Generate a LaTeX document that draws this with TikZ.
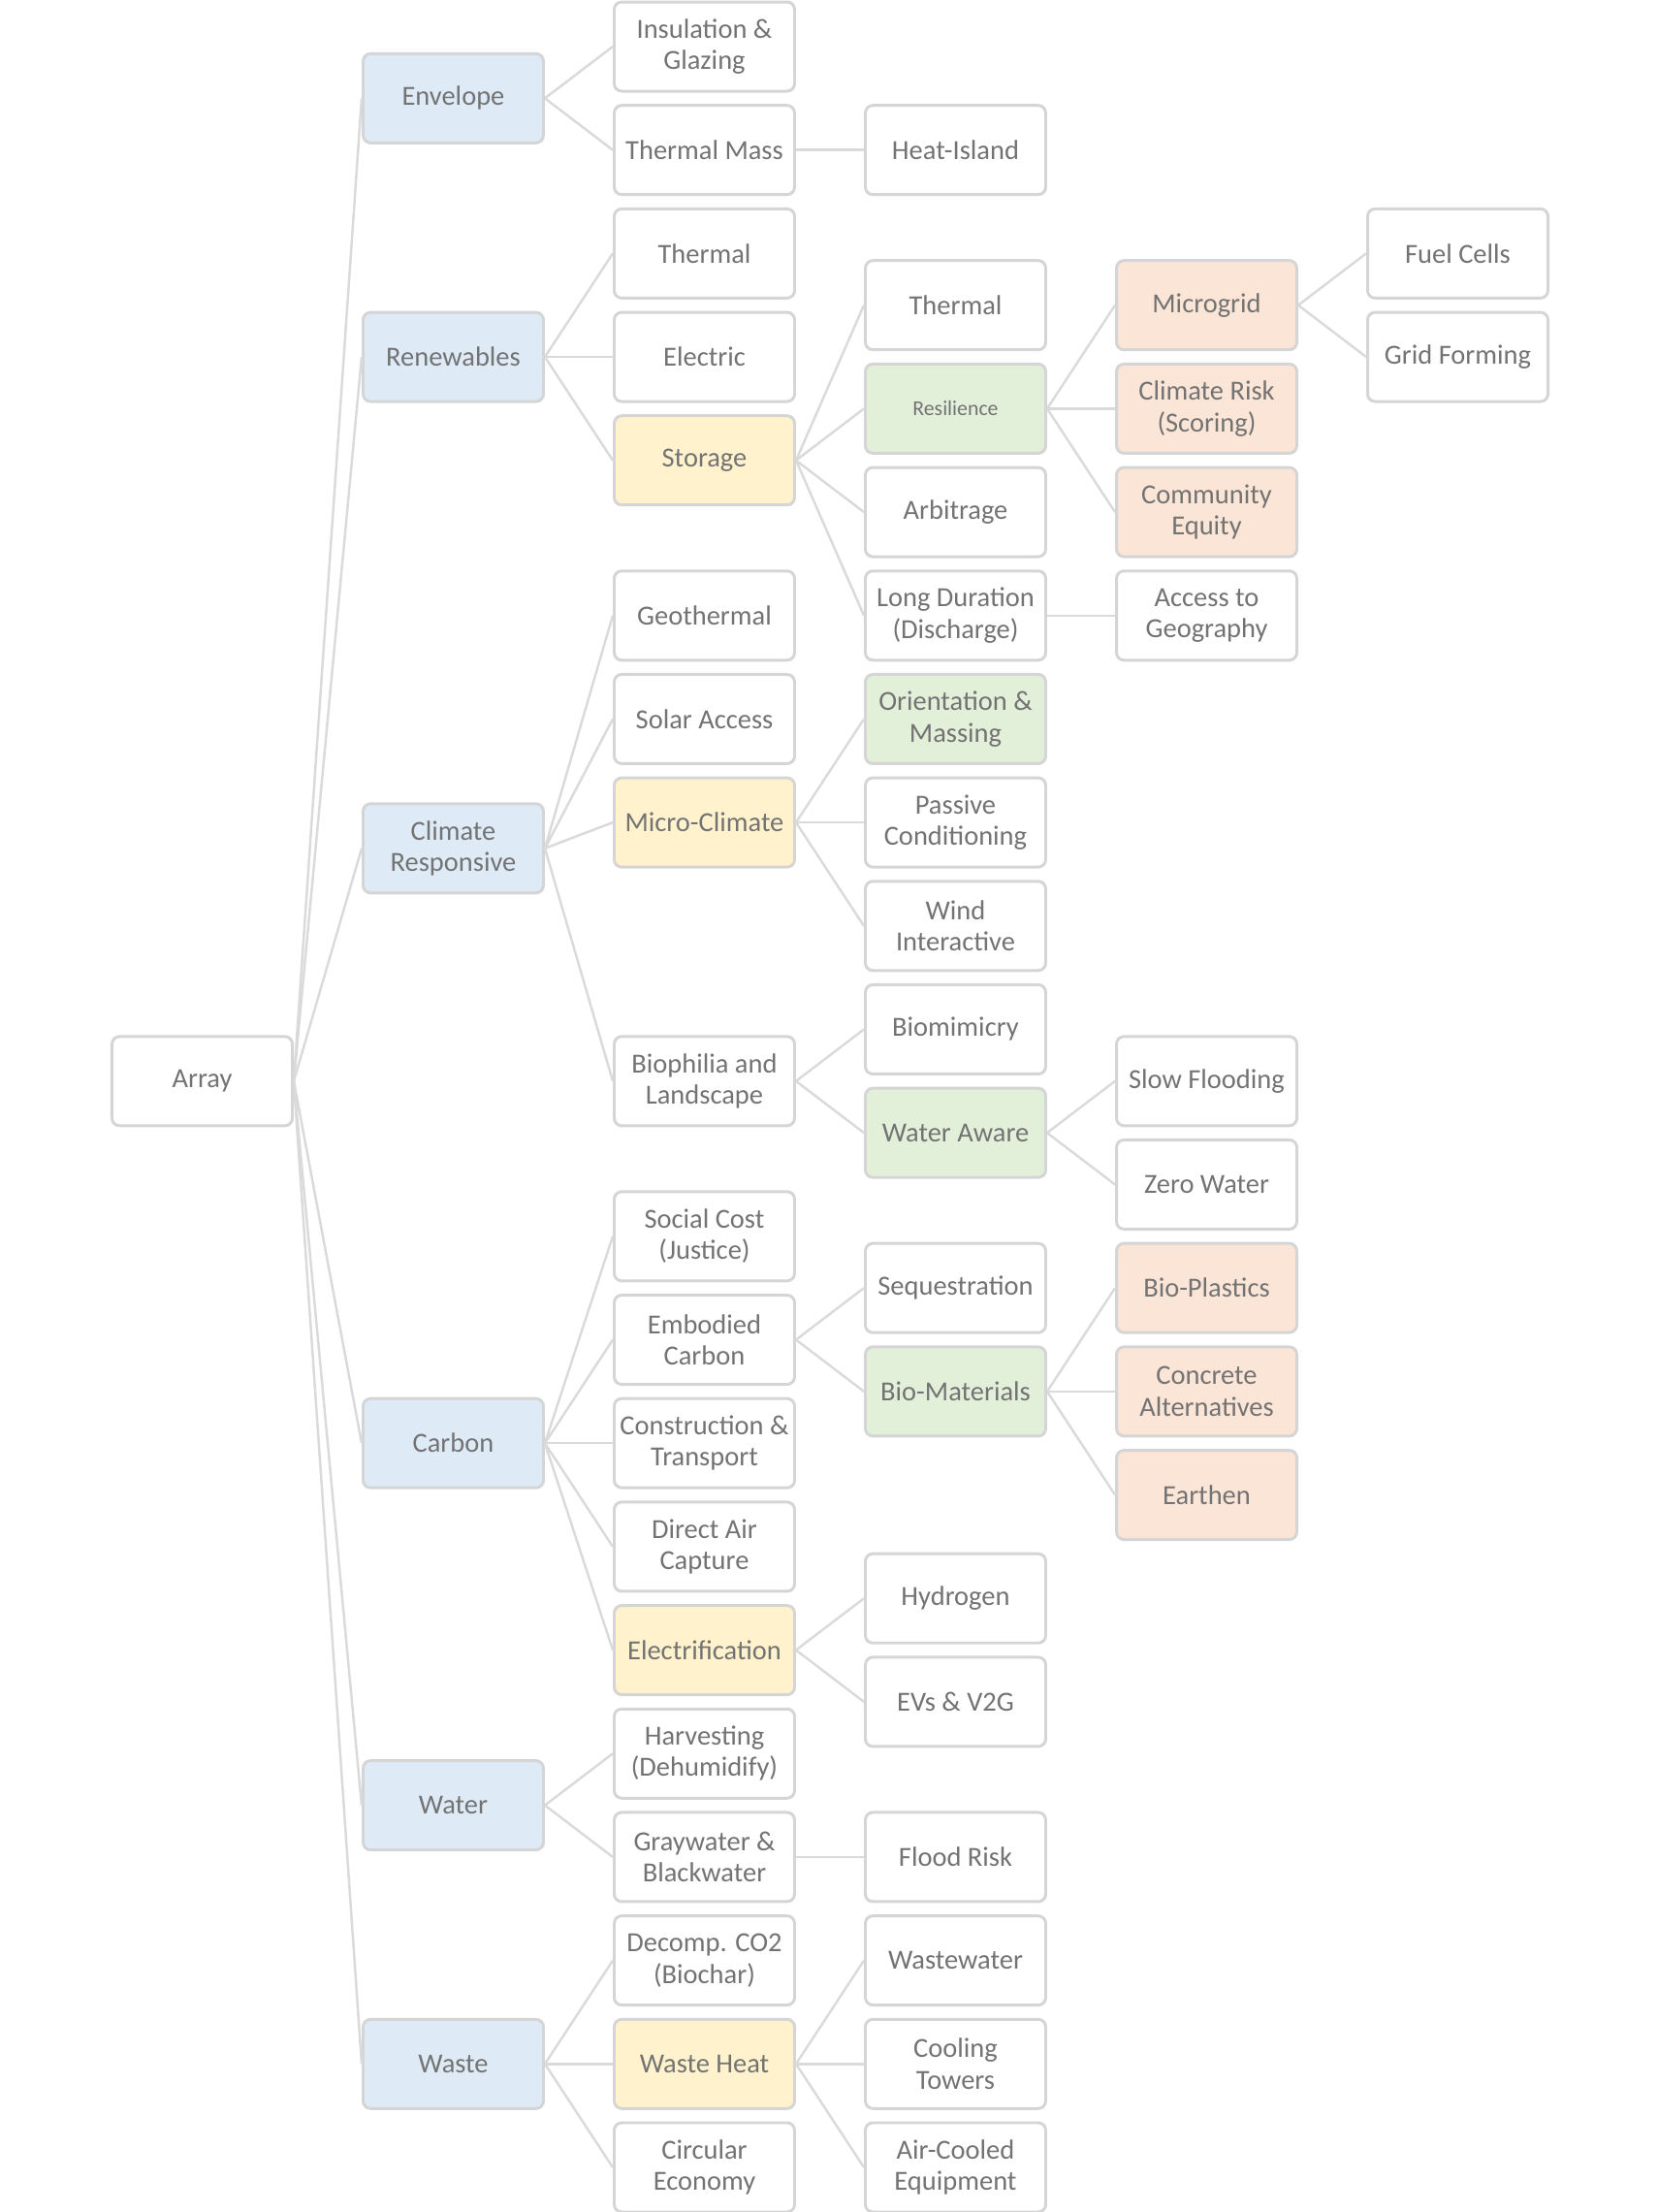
\documentclass[tikz,border=0pt]{standalone}
\usepackage{fontspec}
\setmainfont{Carlito}
\usetikzlibrary{positioning}

\definecolor{boxline}{HTML}{D5D5D5}
\definecolor{linkgray}{HTML}{DADADA}
\definecolor{txt}{HTML}{737373}
\definecolor{catblue}{HTML}{DEEBF7}
\definecolor{hubyellow}{HTML}{FFF2CC}
\definecolor{focusgreen}{HTML}{E2F0D9}
\definecolor{detailpeach}{HTML}{FBE5D6}

\tikzset{
	box/.style={draw=boxline, line width=0.85pt, rounded corners=2.2pt, fill=white,
		minimum width=1.86cm, minimum height=0.92cm, inner sep=1pt, align=center,
		text=txt, font=\fontsize{8.1}{9.2}\selectfont},
	cat/.style={box, fill=catblue},
	hub/.style={box, fill=hubyellow},
	focus/.style={box, fill=focusgreen},
	detail/.style={box, fill=detailpeach},
	link/.style={draw=linkgray, line width=0.7pt},
}

\begin{document}
\begin{tikzpicture}[x=2.59cm, y=-0.5334cm]
	\useasboundingbox (-0.8050, -0.9) rectangle (5.7973, 41.863);

	% root
	\node[box] (arr) at (0, 20) {Array};

	% first level
	\node[cat] (env) at (1, 1) {Envelope};
	\node[cat] (ren) at (1, 6) {Renewables};
	\node[cat] (clim) at (1, 15.5) {Climate\\Responsive};
	\node[cat] (carb) at (1, 27) {Carbon};
	\node[cat] (wat) at (1, 34) {Water};
	\node[cat] (wst) at (1, 39) {Waste};

	\foreach \c in {env, ren, clim, carb, wat, wst} {
		\draw[link] (arr.east) -- (\c.west);
	}

	% second level
	\node[box] (ins) at (2, 0) {Insulation \&\\Glazing};
	\node[box] (tmass) at (2, 2) {Thermal Mass};
	\node[box] (rth) at (2, 4) {Thermal};
	\node[box] (rel) at (2, 6) {Electric};
	\node[hub] (sto) at (2, 8) {Storage};
	\node[box] (geo) at (2, 11) {Geothermal};
	\node[box] (sol) at (2, 13) {Solar Access};
	\node[hub] (mic) at (2, 15) {Micro-Climate};
	\node[box] (bio) at (2, 20) {Biophilia and\\Landscape};
	\node[box] (soc) at (2, 23) {Social Cost\\(Justice)};
	\node[box] (emb) at (2, 25) {Embodied\\Carbon};
	\node[box] (con) at (2, 27) {Construction \&\\Transport};
	\node[box] (dac) at (2, 29) {Direct Air\\Capture};
	\node[hub] (ele) at (2, 31) {Electrification};
	\node[box] (har) at (2, 33) {Harvesting\\(Dehumidify)};
	\node[box] (gry) at (2, 35) {Graywater \&\\Blackwater};
	\node[box] (dec) at (2, 37) {Decomp. CO2\\(Biochar)};
	\node[hub] (wh) at (2, 39) {Waste Heat};
	\node[box] (circ) at (2, 41) {Circular\\Economy};

	\foreach \c in {ins, tmass} \draw[link] (env.east) -- (\c.west);
	\foreach \c in {rth, rel, sto} \draw[link] (ren.east) -- (\c.west);
	\foreach \c in {geo, sol, mic, bio} \draw[link] (clim.east) -- (\c.west);
	\foreach \c in {soc, emb, con, dac, ele} \draw[link] (carb.east) -- (\c.west);
	\foreach \c in {har, gry} \draw[link] (wat.east) -- (\c.west);
	\foreach \c in {dec, wh, circ} \draw[link] (wst.east) -- (\c.west);

	% third level
	\node[box] (hi) at (3, 2) {Heat-Island};
	\node[box] (sth) at (3, 5) {Thermal};
	\node[focus, font=\fontsize{6.2}{7}\selectfont] (res) at (3, 7) {Resilience};
	\node[box] (arb) at (3, 9) {Arbitrage};
	\node[box] (ld) at (3, 11) {Long Duration\\(Discharge)};
	\node[focus] (ori) at (3, 13) {Orientation \&\\Massing};
	\node[box] (pas) at (3, 15) {Passive\\Conditioning};
	\node[box] (wind) at (3, 17) {Wind\\Interactive};
	\node[box] (bmim) at (3, 19) {Biomimicry};
	\node[focus] (wa) at (3, 21) {Water Aware};
	\node[box] (seq) at (3, 24) {Sequestration};
	\node[focus] (bmat) at (3, 26) {Bio-Materials};
	\node[box] (hyd) at (3, 30) {Hydrogen};
	\node[box] (ev) at (3, 32) {EVs \& V2G};
	\node[box] (fr) at (3, 35) {Flood Risk};
	\node[box] (ww) at (3, 37) {Wastewater};
	\node[box] (ct) at (3, 39) {Cooling\\Towers};
	\node[box] (ac) at (3, 41) {Air-Cooled\\Equipment};

	\draw[link] (tmass.east) -- (hi.west);
	\foreach \c in {sth, res, arb, ld} \draw[link] (sto.east) -- (\c.west);
	\foreach \c in {ori, pas, wind} \draw[link] (mic.east) -- (\c.west);
	\foreach \c in {bmim, wa} \draw[link] (bio.east) -- (\c.west);
	\foreach \c in {seq, bmat} \draw[link] (emb.east) -- (\c.west);
	\foreach \c in {hyd, ev} \draw[link] (ele.east) -- (\c.west);
	\draw[link] (gry.east) -- (fr.west);
	\foreach \c in {ww, ct, ac} \draw[link] (wh.east) -- (\c.west);

	% fourth level
	\node[detail] (mg) at (4, 5) {Microgrid};
	\node[detail] (cr) at (4, 7) {Climate Risk\\(Scoring)};
	\node[detail] (ce) at (4, 9) {Community\\Equity};
	\node[box] (ag) at (4, 11) {Access to\\Geography};
	\node[box] (sf) at (4, 20) {Slow Flooding};
	\node[box] (zw) at (4, 22) {Zero Water};
	\node[detail] (bp) at (4, 24) {Bio-Plastics};
	\node[detail] (calt) at (4, 26) {Concrete\\Alternatives};
	\node[detail] (earth) at (4, 28) {Earthen};

	\foreach \c in {mg, cr, ce} \draw[link] (res.east) -- (\c.west);
	\draw[link] (ld.east) -- (ag.west);
	\foreach \c in {sf, zw} \draw[link] (wa.east) -- (\c.west);
	\foreach \c in {bp, calt, earth} \draw[link] (bmat.east) -- (\c.west);

	% fifth level
	\node[box] (fc) at (5, 4) {Fuel Cells};
	\node[box] (gf) at (5, 6) {Grid Forming};

	\foreach \c in {fc, gf} \draw[link] (mg.east) -- (\c.west);
\end{tikzpicture}
\end{document}
